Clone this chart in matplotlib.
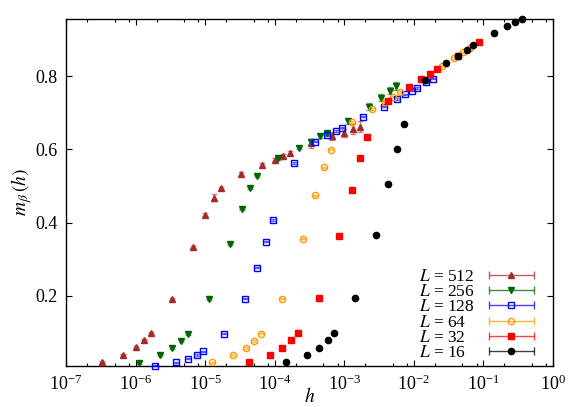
import numpy as np
import matplotlib
matplotlib.use('Agg')
import matplotlib.pyplot as plt
from matplotlib.ticker import LogLocator, NullLocator, NullFormatter
from matplotlib.container import ErrorbarContainer
from matplotlib.legend_handler import HandlerErrorbar

plt.rcParams['font.family'] = 'serif'
plt.rcParams['font.serif'] = ['Liberation Serif', 'DejaVu Serif']
plt.rcParams['mathtext.fontset'] = 'stix'
plt.rcParams['font.size'] = 13

# dane: h, m_beta(h), ошибки
h_512 = [3.33e-7, 6.67e-7, 1e-6, 1.33e-6, 1.67e-6, 3.33e-6, 6.67e-6, 1e-5, 1.33e-5, 1.67e-5,
         3.33e-5, 6.67e-5, 1e-4, 1.33e-4, 1.67e-4, 3.33e-4, 6.67e-4, 1e-3, 1.33e-3, 1.67e-3]
m_512 = [0.019, 0.039, 0.060, 0.080, 0.099, 0.191, 0.333, 0.421, 0.468, 0.494,
         0.534, 0.557, 0.572, 0.583, 0.590, 0.616, 0.637, 0.645, 0.655, 0.662]
e_512 = [0.002, 0.002, 0.002, 0.002, 0.002, 0.003, 0.003, 0.004, 0.010, 0.004,
         0.004, 0.005, 0.005, 0.005, 0.006, 0.011, 0.011, 0.011, 0.014, 0.015]

h_256 = [1.12e-6, 2.24e-6, 3.36e-6, 4.48e-6, 5.6e-6, 1.12e-5, 2.24e-5, 3.36e-5, 4.48e-5, 5.6e-5,
         1.12e-4, 2.24e-4, 3.36e-4, 4.48e-4, 5.6e-4, 1.12e-3, 2.24e-3, 3.36e-3, 4.48e-3, 5.6e-3]
m_256 = [0.017, 0.038, 0.058, 0.077, 0.096, 0.191, 0.341, 0.437, 0.495, 0.527,
         0.575, 0.605, 0.621, 0.636, 0.645, 0.678, 0.717, 0.741, 0.760, 0.773]
e_256 = [0.002, 0.002, 0.002, 0.002, 0.002, 0.002, 0.003, 0.003, 0.003, 0.003,
         0.003, 0.003, 0.006, 0.004, 0.005, 0.008, 0.010, 0.010, 0.010, 0.012]

h_128 = [1.88e-6, 3.76e-6, 5.64e-6, 7.52e-6, 9.4e-6, 1.88e-5, 3.76e-5, 5.64e-5, 7.52e-5, 9.4e-5,
         1.88e-4, 3.76e-4, 5.64e-4, 7.52e-4, 9.4e-4, 1.88e-3, 3.76e-3, 5.64e-3, 7.52e-3, 9.4e-3,
         1.128e-2, 1.504e-2, 1.88e-2]
m_128 = [0.009, 0.018, 0.028, 0.038, 0.048, 0.097, 0.192, 0.277, 0.348, 0.407,
         0.562, 0.621, 0.639, 0.650, 0.659, 0.689, 0.717, 0.737, 0.750, 0.760,
         0.768, 0.783, 0.793]
e_128 = [0.002, 0.002, 0.002, 0.002, 0.002, 0.002, 0.002, 0.002, 0.002, 0.002,
         0.003, 0.002, 0.002, 0.002, 0.002, 0.002, 0.002, 0.002, 0.002, 0.002,
         0.002, 0.002, 0.002]

h_64 = [1.27e-5, 2.54e-5, 3.81e-5, 5.08e-5, 6.35e-5, 1.27e-4, 2.54e-4, 3.81e-4, 5.08e-4, 6.35e-4,
        1.27e-3, 2.54e-3, 3.81e-3, 5.08e-3, 6.35e-3, 1.27e-2, 2.54e-2, 3.81e-2, 5.08e-2, 6.35e-2]
m_64 = [0.018, 0.038, 0.058, 0.077, 0.097, 0.192, 0.356, 0.474, 0.551, 0.599,
        0.675, 0.710, 0.730, 0.744, 0.756, 0.791, 0.828, 0.850, 0.865, 0.877]
e_64 = [0.002, 0.002, 0.002, 0.002, 0.002, 0.002, 0.002, 0.002, 0.002, 0.002,
        0.002, 0.002, 0.002, 0.002, 0.002, 0.002, 0.002, 0.002, 0.002, 0.002]

h_32 = [4.27e-5, 8.53e-5, 1.28e-4, 1.71e-4, 2.13e-4, 4.27e-4, 8.53e-4, 1.28e-3, 1.71e-3, 2.13e-3,
        4.27e-3, 8.53e-3, 1.28e-2, 1.71e-2, 2.13e-2, 4.27e-2, 8.53e-2]
m_32 = [0.019, 0.039, 0.058, 0.078, 0.098, 0.195, 0.362, 0.489, 0.577, 0.634,
        0.732, 0.771, 0.792, 0.807, 0.819, 0.855, 0.893]
e_32 = [0.001, 0.001, 0.001, 0.001, 0.001, 0.001, 0.001, 0.001, 0.001, 0.001,
        0.001, 0.001, 0.001, 0.001, 0.001, 0.001, 0.001]

h_16 = [1.435e-4, 2.87e-4, 4.3e-4, 5.74e-4, 7.18e-4, 1.435e-3, 2.87e-3, 4.3e-3, 5.74e-3, 7.18e-3,
        1.435e-2, 2.87e-2, 4.3e-2, 5.74e-2, 7.18e-2, 0.1435, 0.215, 0.287, 0.359]
m_16 = [0.019, 0.039, 0.058, 0.078, 0.098, 0.195, 0.367, 0.504, 0.601, 0.669,
        0.789, 0.835, 0.855, 0.871, 0.884, 0.919, 0.938, 0.948, 0.955]
e_16 = [0.001, 0.001, 0.001, 0.001, 0.001, 0.001, 0.001, 0.001, 0.001, 0.001,
        0.001, 0.001, 0.001, 0.001, 0.001, 0.001, 0.001, 0.001, 0.001]

labels = ['$L$ = 512', '$L$ = 256', '$L$ = 128', '$L$ = 64', '$L$ = 32', '$L$ = 16']
x_ticks = [1e-7, 1e-6, 1e-5, 1e-4, 1e-3, 1e-2, 1e-1, 1e0]
y_ticks = [0.2, 0.4, 0.6, 0.8]

# стили серий
styles = [
    dict(marker='^', color='#a52a2a', mfc='#a52a2a', ms=4.0),
    dict(marker='v', color='#006400', mfc='#006400', ms=4.0),
    dict(marker='s', color='#0000ff', mfc='none', ms=4.3, mew=1.0),
    dict(marker='o', color='#ff9900', mfc='none', ms=4.5, mew=1.0),
    dict(marker='s', color='#ff0000', mfc='#ff0000', ms=4.3),
    dict(marker='o', color='#000000', mfc='#000000', ms=4.5),
]
series = [(h_512, m_512, e_512), (h_256, m_256, e_256), (h_128, m_128, e_128),
          (h_64, m_64, e_64), (h_32, m_32, e_32), (h_16, m_16, e_16)]

fig = plt.figure(figsize=(5.81, 4.07), dpi=100)
ax = fig.add_axes([0.1136, 0.1007, 0.8382, 0.8526])

proxies = []
for (hx, my, ey), st, lab in zip(series, styles, labels):
    c = st['color']
    eb = ax.errorbar(hx, my, yerr=ey, fmt=st['marker'], color=c, mfc=st['mfc'], mec=c,
                     ms=st['ms'], mew=st.get('mew', 1.0), ecolor=c, elinewidth=1.0,
                     capsize=2, capthick=1.0, zorder=3)
    for art in eb.lines[1]:
        art.set_alpha(0.55)
        art.set_clip_on(False)
    for art in eb.lines[2]:
        art.set_alpha(0.55)
        art.set_clip_on(False)
    eb.lines[0].set_clip_on(False)
    # прокси для легенды (горизонтальная планка)
    pr = ax.errorbar([np.nan], [np.nan], xerr=[1.0], fmt=st['marker'], color=c,
                     mfc=st['mfc'], mec=c, ms=st['ms'], mew=st.get('mew', 1.0),
                     ecolor=c, elinewidth=1.0, capsize=3, capthick=1.0, label=lab)
    for art in pr.lines[2]:
        art.set_alpha(0.75)
    for art in pr.lines[1]:
        art.set_alpha(0.75)
    proxies.append(pr)

ax.set_xscale('log')
ax.set_xlim(1e-7, 1.0)
ax.set_ylim(0.0082, 0.956)
ax.set_xticks(x_ticks)
ax.xaxis.set_minor_locator(LogLocator(base=10, subs=(2.0, 5.0, 8.0), numticks=20))
ax.xaxis.set_minor_formatter(NullFormatter())
ax.set_yticks(y_ticks)
ax.yaxis.set_minor_locator(NullLocator())

ax.tick_params(which='both', direction='in', top=True, right=True, labelsize=13)
ax.tick_params(which='major', length=4, width=0.8, pad=6)
ax.tick_params(which='minor', length=2, width=0.8)
for sp in ax.spines.values():
    sp.set_linewidth(1.0)

ax.set_xlabel('$h$', fontsize=14, labelpad=-5)
ax.set_ylabel(r'$m_\beta\,(h)$', fontsize=14, labelpad=1)

hpad = 0.8
leg = ax.legend(handles=proxies, labels=labels, loc='lower right', frameon=False,
                bbox_to_anchor=(0.961, 0.014), borderaxespad=0, borderpad=0,
                markerfirst=False, handlelength=2.6, handletextpad=hpad,
                labelspacing=-0.05, fontsize=12.5,
                handler_map={ErrorbarContainer: HandlerErrorbar(xerr_size=1.3)})

# подписи легенды выровнять по левому краю, значки - по правому
fig.canvas.draw()
rend = fig.canvas.get_renderer()
widths = [t.get_window_extent(rend).width for t in leg.texts]
wmax = max(widths)
for col in leg._legend_handle_box.get_children():
    for item, w in zip(col.get_children(), widths):
        item.sep = hpad * 12.5 + (wmax - w) * 72.0 / fig.dpi

fig.savefig('out.png', dpi=100)
